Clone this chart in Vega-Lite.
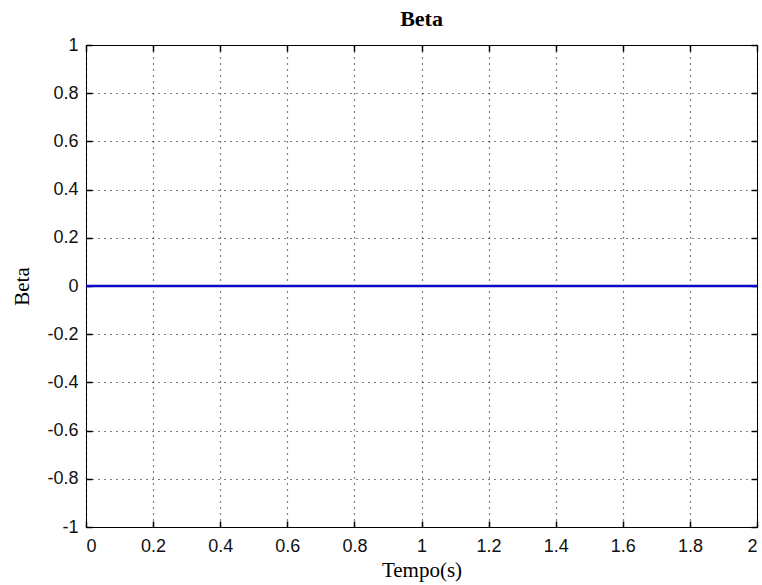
{
  "$schema": "https://vega.github.io/schema/vega-lite/v6.json",
  "autosize": {"type": "none"},
  "width": 671,
  "height": 482,
  "padding": {"left": 86, "top": 45, "right": 5, "bottom": 58},
  "background": "white",
  "title": {"text": "Beta", "font": "Liberation Serif", "fontSize": 22, "fontWeight": "bold", "color": "black", "offset": 5},
  "resolve": {"axis": {"x": "independent", "y": "independent"}},
  "config": {
    "view": {"stroke": "black", "strokeWidth": 1},
    "axis": {"labelFont": "Liberation Sans", "labelFontSize": 18, "labelColor": "#111111", "titleFont": "Liberation Serif", "titleFontSize": 21, "titleFontWeight": "normal", "titleColor": "black", "domain": false, "tickColor": "black", "tickSize": -6, "tickWidth": 1.5, "gridColor": "black", "gridDash": [1, 5], "gridOpacity": 1, "gridWidth": 1.2}
  },
  "data": {"values": [
    {"t": 0, "beta": 0},
    {"t": 2, "beta": 0}
  ]},
  "layer": [
    {
      "mark": {"type": "line", "color": "#0a0ac8", "strokeWidth": 2.5, "clip": true},
      "encoding": {
        "x": {"field": "t", "type": "quantitative", "scale": {"domain": [0, 2], "nice": false, "zero": false},
          "axis": {"title": "Tempo(s)", "values": [0, 0.2, 0.4, 0.6, 0.8, 1, 1.2, 1.4, 1.6, 1.8, 2], "format": "~g", "labelPadding": 16, "titlePadding": 4, "grid": true}},
        "y": {"field": "beta", "type": "quantitative", "scale": {"domain": [-1, 1], "nice": false, "zero": false},
          "axis": {"title": "Beta", "values": [-1, -0.8, -0.6, -0.4, -0.2, 0, 0.2, 0.4, 0.6, 0.8, 1], "format": "~g", "labelExpr": "replace(datum.label, '\u2212', '-')", "labelPadding": 14, "titlePadding": 14, "grid": true}}
      }
    },
    {
      "mark": {"type": "rule", "opacity": 0},
      "encoding": {
        "x": {"field": "t", "type": "quantitative", "scale": {"domain": [0, 2], "nice": false, "zero": false}, "axis": {"orient": "top", "labels": false, "title": null, "grid": false, "values": [0, 0.2, 0.4, 0.6, 0.8, 1, 1.2, 1.4, 1.6, 1.8, 2]}},
        "y": {"field": "beta", "type": "quantitative", "scale": {"domain": [-1, 1], "nice": false, "zero": false}, "axis": {"orient": "right", "labels": false, "title": null, "grid": false, "values": [-1, -0.8, -0.6, -0.4, -0.2, 0, 0.2, 0.4, 0.6, 0.8, 1]}}
      }
    }
  ]
}
